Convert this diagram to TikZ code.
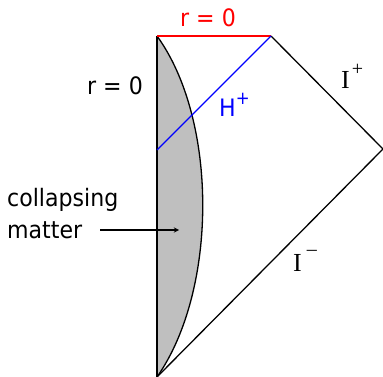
\documentclass[tikz,border=0pt]{standalone}
\usepackage{fontspec}
\setmainfont{DejaVu Sans}[FakeStretch=0.92]
\newfontfamily\scrifont{Liberation Serif}
\newcommand{\supplus}{\raisebox{0.5em}{\fontsize{18}{18}\selectfont +}}
\begin{document}
\begin{tikzpicture}[x=1pt,y=-1pt,
  lbl/.style={font=\fontsize{24}{26}\selectfont, inner sep=0pt},
  scri/.style={font=\fontsize{26}{28}\scrifont, inner sep=0pt},
  edge/.style={line width=1.3pt, line join=miter}]
\useasboundingbox (0,0) rectangle (383,377);
\coordinate (TL) at (157,36);
\coordinate (TR) at (271,36);
\coordinate (R) at (383,149);
\coordinate (B) at (157,377);
\coordinate (HL) at (157,150);
\coordinate (A) at (100,230);
\coordinate (Ae) at (179,230);
% collapsing matter
\fill[fill=black!25] (TL) .. controls (218,120) and (218,290) .. (B) -- cycle;
\draw[edge] (TL) .. controls (218,120) and (218,290) .. (B);
\draw[edge] (TL) -- (B);
\draw[edge] (TR) -- (R) -- (B);
\draw[edge, red] (TL) -- (TR);
\draw[edge, blue] (HL) -- (TR);
\draw[line width=1.3pt, -stealth] (A) -- (Ae);
% labels
\node[lbl, red] (r1) at (208,18) {r = 0};
\node[lbl] (r2) at (115,86) {r = 0};
\node[lbl, blue, anchor=base west] (H) at (219,117) {H{\supplus}};
\node[scri, anchor=base west] (Ip) at (341,89) {I\hspace{2pt}\raisebox{0.5em}{\fontsize{20}{20}\selectfont +}};
\node[scri, anchor=base west] (Im) at (293,271) {I\hspace{5pt}\raisebox{0.6em}{\fontsize{20}{20}\selectfont\textendash}};
\node[lbl, anchor=base west] (cm) at (7,206) {collapsing};
\node[lbl, anchor=base west] (cm2) at (7,238) {matter};
\end{tikzpicture}
\end{document}
